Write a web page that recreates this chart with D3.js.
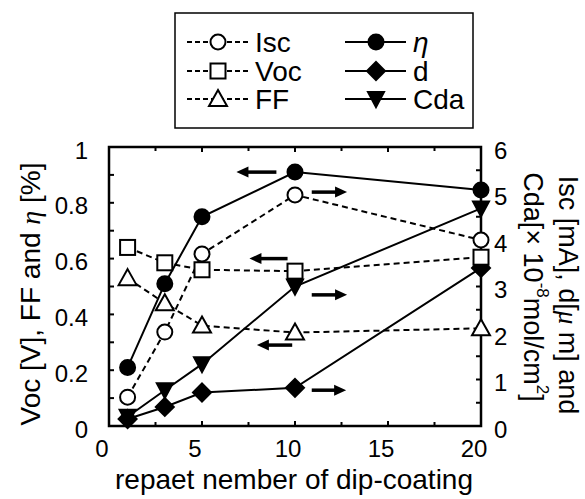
<!DOCTYPE html>
<html lang="en">
<head>
<meta charset="UTF-8">
<title>dip-coating</title>
<script src="https://cdn.jsdelivr.net/npm/d3@7"></script>
<style>
  body { margin: 0; background: #fff; }
  text { font-family: "Liberation Sans", Arial, sans-serif; fill: #000; }
</style>
</head>
<body>
<script>
    // repeat number of dip-coating
    var xs = [1, 3, 5, 10, 20]
    // left axis series
    var voc = [0.64, 0.585, 0.56, 0.555, 0.605]
    var ff = [0.53, 0.44, 0.36, 0.335, 0.35]
    var eta = [0.21, 0.51, 0.75, 0.91, 0.846]
    // right axis series
    var isc = [0.62, 2.02, 3.7, 4.97, 4.0]
    var dd = [0.15, 0.41, 0.72, 0.82, 3.4]
    var cda = [0.2, 0.77, 1.33, 3.0, 4.68]

    var xTicks = [0, 5, 10, 15, 20]
    var yLeftTicks = [0, 0.2, 0.4, 0.6, 0.8, 1]
    var yRightTicks = [0, 1, 2, 3, 4, 5, 6]

    // arrows: [x from, x to, y value, axis]
    var arrows = [
        [9.0, 6.85, 0.91, "L"],
        [10.9, 12.8, 5.03, "R"],
        [9.6, 7.55, 0.6, "L"],
        [10.9, 12.8, 2.82, "R"],
        [9.85, 7.95, 0.29, "L"],
        [10.9, 12.75, 0.77, "R"]
    ]

    var width = 585, height = 499

    var svg = d3.select("body").append("svg")
        .attr("width", width)
        .attr("height", height)

    var x = d3.scaleLinear().domain([0, 20]).range([109, 481])
    var yL = d3.scaleLinear().domain([0, 1]).range([426, 147])
    var yR = d3.scaleLinear().domain([0, 6]).range([426, 147])

    // frame
    svg.append("rect")
        .attr("x", x(0)).attr("y", yL(1))
        .attr("width", x(20) - x(0)).attr("height", yL(0) - yL(1))
        .attr("fill", "none").attr("stroke", "#000").attr("stroke-width", 2.5)

    // ticks (inward)
    var tk = svg.append("g").attr("stroke", "#000").attr("stroke-width", 2)
    d3.range(0, 20.01, 2.5).forEach(function (v) {
        var len = (v % 5 == 0) ? 5 : 4
        tk.append("line").attr("x1", x(v)).attr("x2", x(v)).attr("y1", yL(0)).attr("y2", yL(0) - len)
        tk.append("line").attr("x1", x(v)).attr("x2", x(v)).attr("y1", yL(1)).attr("y2", yL(1) + len)
    })
    d3.range(0, 1.001, 0.1).forEach(function (v) {
        tk.append("line").attr("x1", x(0)).attr("x2", x(0) + 5).attr("y1", yL(v)).attr("y2", yL(v))
    })
    d3.range(0, 6.01, 0.5).forEach(function (v) {
        tk.append("line").attr("x1", x(20)).attr("x2", x(20) - 5).attr("y1", yR(v)).attr("y2", yR(v))
    })

    // tick labels
    xTicks.forEach(function (v) {
        svg.append("text").attr("x", x(v) - 7).attr("y", 457)
            .attr("text-anchor", "middle").attr("font-size", 24).text(v)
    })
    yLeftTicks.forEach(function (v) {
        svg.append("text").attr("x", 88).attr("y", yL(v) + 3)
            .attr("text-anchor", "end").attr("dominant-baseline", "central")
            .attr("font-size", 24).text(v)
    })
    yRightTicks.forEach(function (v) {
        svg.append("text").attr("x", 494).attr("y", yR(v) + 3)
            .attr("dominant-baseline", "central")
            .attr("font-size", 24).text(v)
    })

    // axis titles
    svg.append("text").attr("x", x(10) - 1).attr("y", 489)
        .attr("text-anchor", "middle").attr("font-size", 28)
        .text("repaet nember of dip-coating")

    var lt = svg.append("text")
        .attr("transform", "translate(30,294) rotate(-90)")
        .attr("text-anchor", "middle").attr("dominant-baseline", "central")
        .attr("font-size", 28)
    lt.append("tspan").text("Voc [V], FF and ")
    lt.append("tspan").attr("font-family", "Liberation Serif").attr("font-style", "italic").text("η")
    lt.append("tspan").text(" [%]")

    var rt1 = svg.append("text")
        .attr("transform", "translate(568,295) rotate(90)")
        .attr("text-anchor", "middle").attr("dominant-baseline", "central")
        .attr("font-size", 27)
    rt1.append("tspan").text("Isc [mA], d[")
    rt1.append("tspan").attr("font-family", "Liberation Serif").attr("font-style", "italic").text("μ")
    rt1.append("tspan").text(" m] and")

    var rt2 = svg.append("text")
        .attr("transform", "translate(533,287) rotate(90)")
        .attr("text-anchor", "middle").attr("dominant-baseline", "central")
        .attr("font-size", 27)
    rt2.append("tspan").text("Cda[× 10")
    rt2.append("tspan").attr("font-size", 17).attr("dy", -10).text("-8")
    rt2.append("tspan").attr("dy", 10).text("mol/cm")
    rt2.append("tspan").attr("font-size", 17).attr("dy", -10).text("2")
    rt2.append("tspan").attr("dy", 10).text("]")

    // marker shapes
    function marker(g, type, cx, cy) {
        var s
        if (type == "circle") {
            g.append("circle").attr("cx", cx).attr("cy", cy).attr("r", 7.5)
        } else if (type == "square") {
            g.append("rect").attr("x", cx - 7.5).attr("y", cy - 7.5).attr("width", 15).attr("height", 15)
        } else if (type == "tri") {
            s = "M" + cx + "," + (cy - 9) + "L" + (cx + 9) + "," + (cy + 7) + "L" + (cx - 9) + "," + (cy + 7) + "Z"
            g.append("path").attr("d", s)
        } else if (type == "diamond") {
            s = "M" + cx + "," + (cy - 9) + "L" + (cx + 9) + "," + cy + "L" + cx + "," + (cy + 9) + "L" + (cx - 9) + "," + cy + "Z"
            g.append("path").attr("d", s)
        } else if (type == "dtri") {
            s = "M" + (cx - 8) + "," + (cy - 7) + "L" + (cx + 8) + "," + (cy - 7) + "L" + cx + "," + (cy + 8) + "Z"
            g.append("path").attr("d", s)
        }
    }

    var series = [
        {vals: cda, axis: yR, type: "dtri", filled: true, dash: null},
        {vals: dd, axis: yR, type: "diamond", filled: true, dash: null},
        {vals: ff, axis: yL, type: "tri", filled: false, dash: "6,4"},
        {vals: voc, axis: yL, type: "square", filled: false, dash: "6,4"},
        {vals: isc, axis: yR, type: "circle", filled: false, dash: "6,4"},
        {vals: eta, axis: yL, type: "circle", filled: true, dash: null}
    ]

    series.forEach(function (s) {
        var line = d3.line().x(function (d, i) { return x(xs[i]) }).y(function (d) { return s.axis(d) })
        svg.append("path").datum(s.vals)
            .attr("d", line)
            .attr("fill", "none").attr("stroke", "#000").attr("stroke-width", 2)
            .attr("stroke-dasharray", s.dash)
    })
    series.forEach(function (s) {
        var g = svg.append("g")
            .attr("fill", s.filled ? "#000" : "#fff")
            .attr("stroke", "#000").attr("stroke-width", 2)
        s.vals.forEach(function (v, i) {
            marker(g, s.type, x(xs[i]), s.axis(v))
        })
    })

    // arrows
    arrows.forEach(function (a) {
        var yy = (a[3] == "L" ? yL : yR)(a[2])
        var x1 = x(a[0]), x2 = x(a[1])
        var dir = x2 > x1 ? 1 : -1
        svg.append("line").attr("x1", x1).attr("x2", x2 - dir * 9).attr("y1", yy).attr("y2", yy)
            .attr("stroke", "#000").attr("stroke-width", 3.5)
        svg.append("path")
            .attr("d", "M" + x2 + "," + yy + "L" + (x2 - dir * 12) + "," + (yy - 5.5) + "L" + (x2 - dir * 12) + "," + (yy + 5.5) + "Z")
            .attr("fill", "#000")
    })

    // legend
    var lg = svg.append("g")
    lg.append("rect").attr("x", 175).attr("y", 13).attr("width", 298).attr("height", 115)
        .attr("fill", "#fff").attr("stroke", "#000").attr("stroke-width", 1.5)

    var legend = [
        {name: "Isc", type: "circle", filled: false, dash: "5,3", col: 0, row: 0},
        {name: "Voc", type: "square", filled: false, dash: "5,3", col: 0, row: 1},
        {name: "FF", type: "tri", filled: false, dash: "5,3", col: 0, row: 2},
        {name: "η", type: "circle", filled: true, dash: null, col: 1, row: 0},
        {name: "d", type: "diamond", filled: true, dash: null, col: 1, row: 1},
        {name: "Cda", type: "dtri", filled: true, dash: null, col: 1, row: 2}
    ]
    var rowY = [42, 71, 99]
    var colX = [187, 345]
    legend.forEach(function (e) {
        var x0 = colX[e.col], yy = rowY[e.row]
        lg.append("line").attr("x1", x0).attr("x2", x0 + 61).attr("y1", yy).attr("y2", yy)
            .attr("stroke", "#000").attr("stroke-width", 2).attr("stroke-dasharray", e.dash)
        var g = lg.append("g").attr("fill", e.filled ? "#000" : "#fff")
            .attr("stroke", "#000").attr("stroke-width", 2)
        marker(g, e.type, x0 + 31, yy)
        var t = lg.append("text").attr("x", x0 + 68).attr("y", yy)
            .attr("dominant-baseline", "central").attr("font-size", 28)
        if (e.name == "η") {
            t.attr("font-family", "Liberation Serif").attr("font-style", "italic").text(e.name)
        } else {
            t.text(e.name)
        }
    })
</script>
</body>
</html>
